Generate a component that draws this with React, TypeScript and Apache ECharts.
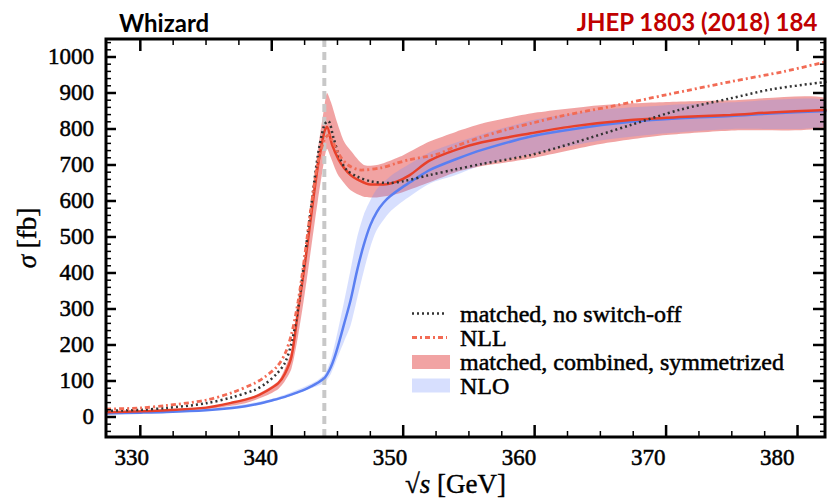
import React, { useEffect, useRef } from "react";
import * as echarts from "echarts";

// ---- axis extents (GeV / fb) ----
const X_MIN = 327.39;
const X_MAX = 382.09;
const X_LABEL_MIN = 328.01;
const X_LABEL_MAX = 383.69;
const Y_MIN = -55.6;
const Y_MAX = 1050;

const xMajorTicks = [330, 340, 350, 360, 370, 380];
const xMinorTicks = [332.5, 335, 337.5, 342.5, 345, 347.5, 352.5, 355, 357.5, 362.5, 365, 367.5, 372.5, 375, 377.5];
const yMajorTicks = [0, 100, 200, 300, 400, 500, 600, 700, 800, 900, 1000];
const yMinorTicks = [
  -40, -20, 20, 40, 60, 80, 120, 140, 160, 180, 220, 240, 260, 280, 320, 340, 360, 380, 420, 440, 460, 480,
  520, 540, 560, 580, 620, 640, 660, 680, 720, 740, 760, 780, 820, 840, 860, 880, 920, 940, 960, 980, 1020, 1040,
];

const thresholdX = 344;

// ---- NLO (blue line) ----
const nloX = [327.4, 330, 332, 335, 337, 338, 339, 340, 341, 342, 342.5, 343, 343.5, 344, 344.25, 344.5, 344.75, 345, 345.5, 346, 346.5, 347, 347.5, 348, 348.5, 349, 350, 351, 352, 354, 356, 359.7, 363, 367.3, 371, 374.9, 378, 382.2];
const nloY = [10, 12, 14, 19, 25, 30, 37, 46, 56, 69, 76, 85, 95, 108, 121, 139, 163, 192, 258, 325, 408, 478, 533, 570, 595, 613, 640, 663, 686, 716, 742, 779, 800, 820, 830, 836, 843, 850];

// ---- NLO band ----
const nloBandX = [327.4, 335, 340, 343, 344, 344.5, 345, 345.5, 346, 346.5, 347, 347.5, 348, 349, 350, 352, 354, 356, 360, 365, 370, 375, 382.2];
const nloBandUpper = [11, 21, 50, 92, 118, 160, 235, 320, 410, 500, 562, 602, 633, 668, 692, 735, 762, 785, 826, 853, 866, 874, 880];
const nloBandLower = [9, 17, 42, 80, 95, 120, 165, 210, 255, 330, 405, 472, 520, 570, 600, 648, 672, 700, 732, 768, 788, 800, 809];

// ---- matched, combined, symmetrized (red line) ----
const matchedX = [327.4, 330, 332, 335, 337, 338.7, 339.5, 340.5, 341, 341.5, 342, 342.5, 343, 343.5, 344, 344.2, 344.6, 345.1, 345.5, 346, 346.5, 347.5, 348.5, 349.5, 350.5, 352, 354, 356, 359.7, 363, 367.3, 371, 374.9, 378, 382.2];
const matchedY = [13, 16, 19, 26, 40, 56, 70, 94, 120, 168, 295, 420, 560, 695, 792, 806, 755, 714, 692, 672, 660, 646, 646, 654, 672, 712, 742, 763, 788, 808, 825, 833, 839, 846, 853];

// ---- matched band ----
const matchedBandX = [327.4, 330, 335, 338, 339.5, 340.5, 341, 341.5, 342, 342.5, 343, 343.5, 344, 344.2, 344.5, 345, 345.5, 346, 347, 348, 349, 350, 352, 354, 356, 358, 360, 365, 370, 375, 382.2];
const matchedBandUpper = [15, 18, 28, 48, 75, 100, 135, 185, 300, 440, 590, 740, 862, 900, 875, 815, 765, 740, 700, 700, 712, 727, 765, 792, 815, 831, 845, 866, 875, 880, 886];
const matchedBandLower = [11, 14, 22, 38, 58, 78, 100, 135, 225, 340, 470, 600, 715, 745, 720, 675, 650, 630, 612, 610, 615, 625, 652, 680, 697, 708, 720, 758, 783, 796, 806];

// ---- matched, no switch-off (black dotted) ----
const noSwitchX = [327.4, 330, 332, 335, 337, 338.7, 339.5, 340.4, 341, 341.5, 342, 342.5, 343, 343.5, 344, 344.3, 344.7, 345.2, 345.7, 346.5, 347.5, 349, 350, 352, 354, 356, 359.7, 363, 367.3, 371, 374.9, 378, 382.2];
const noSwitchY = [17, 20, 25, 38, 55, 75, 92, 121, 150, 205, 300, 440, 585, 725, 812, 822, 775, 718, 686, 668, 655, 650, 655, 672, 688, 703, 728, 762, 811, 853, 885, 910, 931];

// ---- NLL (dash-dot) ----
const nllX = [327.4, 330, 332, 335, 337, 338.7, 339.5, 340.4, 341, 341.5, 342, 342.5, 343, 343.5, 344, 344.3, 344.7, 345.2, 345.8, 346.8, 348.3, 349.5, 350.5, 352.6, 354, 356, 358, 360, 362, 366, 370, 375, 379, 382.2];
const nllY = [22, 25, 32, 47, 68, 94, 112, 140, 175, 230, 320, 445, 585, 705, 770, 783, 760, 725, 700, 686, 692, 705, 715, 730, 752, 778, 800, 818, 836, 864, 895, 932, 960, 987];

const legendLabels = ["matched, no switch-off", "NLL", "matched, combined, symmetrized", "NLO"];

const SERIF = "Liberation Serif";
const RED_BAND = "rgba(228,72,72,0.5)";
const BLUE_BAND = "rgba(110,140,250,0.28)";
const RED_LINE = "#e8402a";
const BLUE_LINE = "#5a7ff2";
const NLL_COLOR = "#f26b55";
const BLACK_DOT = "#333333";

const pairs = (xs: number[], ys: number[]) => xs.map((x, i) => [x, ys[i]]);

function bandSeries(name: string, xs: number[], upper: number[], lower: number[], color: string, z: number) {
  return {
    type: "custom",
    name,
    silent: true,
    clip: true,
    z,
    data: [[xs[0], lower[0]]],
    renderItem: (_params: any, api: any) => {
      const pts: number[][] = [];
      for (let i = 0; i < xs.length; i++) pts.push(api.coord([xs[i], upper[i]]));
      for (let i = xs.length - 1; i >= 0; i--) pts.push(api.coord([xs[i], lower[i]]));
      return { type: "polygon", shape: { points: pts, smooth: 0.25 }, style: { fill: color } };
    },
  };
}

function curve(name: string, xs: number[], ys: number[], color: string, width: number, type: any, z: number) {
  return {
    type: "line",
    name,
    data: pairs(xs, ys),
    symbol: "none",
    smooth: 0.3,
    silent: true,
    clip: true,
    lineStyle: { color, width, type, cap: "butt" },
    z,
  };
}

function seg(x1: number, y1: number, x2: number, y2: number, w: number) {
  return { type: "line", shape: { x1, y1, x2, y2 }, style: { stroke: "#000", lineWidth: w } };
}

const frameSeries = {
  type: "custom",
  name: "frame",
  silent: true,
  clip: false,
  z: 20,
  data: [[X_MIN, Y_MIN]],
  renderItem: (_params: any, api: any) => {
    const [xl, yb] = api.coord([X_MIN, Y_MIN]);
    const [xr, yt] = api.coord([X_MAX, Y_MAX]);
    const children: any[] = [];
    xMajorTicks.forEach((v) => {
      const px = api.coord([v, Y_MIN])[0];
      children.push(seg(px, yb, px, yb - 12, 2.5), seg(px, yt, px, yt + 12, 2.5));
    });
    xMinorTicks.forEach((v) => {
      const px = api.coord([v, Y_MIN])[0];
      children.push(seg(px, yb, px, yb - 6, 1.5), seg(px, yt, px, yt + 6, 1.5));
    });
    yMajorTicks.forEach((v) => {
      const py = api.coord([X_MIN, v])[1];
      children.push(seg(xl, py, xl + 10, py, 2.5), seg(xr, py, xr - 12, py, 2.5));
    });
    yMinorTicks.forEach((v) => {
      const py = api.coord([X_MIN, v])[1];
      children.push(seg(xl, py, xl + 5, py, 1.5), seg(xr, py, xr - 5, py, 1.5));
    });
    children.push({
      type: "rect",
      shape: { x: xl, y: yt, width: xr - xl, height: yb - yt },
      style: { fill: "none", stroke: "#000", lineWidth: 3 },
    });
    return { type: "group", children };
  },
};

function buildOption() {
  const labelText = { fontFamily: SERIF, fontSize: 23, color: "#000", textBorderColor: "#000", textBorderWidth: 0.5 };
  const nameText = {
    fontFamily: SERIF,
    fontSize: 27,
    color: "#000",
    textBorderColor: "#000",
    textBorderWidth: 0.4,
    rich: {
      i: { fontFamily: SERIF, fontSize: 27, fontStyle: "italic", color: "#000", textBorderColor: "#000", textBorderWidth: 0.4 },
    },
  };

  const legendRows = [313.5, 337.5, 362, 385.5];
  const legendGraphics: any[] = [
    {
      type: "line",
      shape: { x1: 412, y1: legendRows[0], x2: 447, y2: legendRows[0] },
      style: { stroke: BLACK_DOT, lineWidth: 2.5, lineDash: [2, 3] },
    },
    {
      type: "line",
      shape: { x1: 412, y1: legendRows[1], x2: 447, y2: legendRows[1] },
      style: { stroke: NLL_COLOR, lineWidth: 3, lineDash: [5, 3, 2, 3] },
    },
    { type: "rect", shape: { x: 412, y: legendRows[2] - 7, width: 38, height: 14 }, style: { fill: RED_BAND } },
    { type: "rect", shape: { x: 412, y: legendRows[3] - 7, width: 38, height: 14 }, style: { fill: BLUE_BAND } },
    ...legendLabels.map((t, i) => ({
      type: "text",
      x: 460,
      y: legendRows[i],
      style: {
        text: t,
        fontFamily: SERIF,
        fontSize: 24,
        fill: "#000",
        stroke: "#000",
        lineWidth: 0.5,
        verticalAlign: "middle",
        align: "left",
      },
    })),
  ];

  return {
    animation: false,
    backgroundColor: "#fff",
    title: [
      {
        text: "Whizard",
        left: 114,
        top: 5,
        textStyle: { fontFamily: "Lato", fontWeight: "bold", fontSize: 24, color: "#000" },
      },
      {
        text: "JHEP 1803 (2018) 184",
        right: 4,
        top: 4,
        textStyle: { fontFamily: "Lato", fontWeight: "bold", fontSize: 24, color: "#c00000" },
      },
    ],
    grid: { left: 106, right: 2, top: 39, bottom: 62, containLabel: false, outerBoundsMode: "none" },
    xAxis: [
      {
        type: "value",
        min: X_MIN,
        max: X_MAX,
        position: "bottom",
        axisLine: { show: false, onZero: false },
        axisTick: { show: false },
        axisLabel: { show: false },
        splitLine: { show: false },
      },
      {
        type: "value",
        min: X_LABEL_MIN,
        max: X_LABEL_MAX,
        position: "bottom",
        axisLine: { show: false, onZero: false },
        axisTick: { show: false },
        splitLine: { show: false },
        axisLabel: {
          show: true,
          customValues: xMajorTicks,
          margin: 9,
          formatter: (v: number) => String(v),
          ...labelText,
        },
        name: "√{i|s} [GeV]",
        nameLocation: "middle",
        nameGap: 33,
        nameMoveOverlap: false,
        nameTextStyle: { ...nameText, padding: [0, 20, 0, 0] },
      },
    ],
    yAxis: [
      {
        type: "value",
        min: Y_MIN,
        max: Y_MAX,
        position: "left",
        axisLine: { show: false, onZero: false },
        axisTick: { show: false },
        splitLine: { show: false },
        axisLabel: {
          show: true,
          customValues: yMajorTicks,
          margin: 12,
          formatter: (v: number) => String(v),
          ...labelText,
        },
        name: "{i|σ} [fb]",
        nameLocation: "middle",
        nameGap: 66,
        nameMoveOverlap: false,
        nameTextStyle: nameText,
      },
    ],
    series: [
      bandSeries("matched band", matchedBandX, matchedBandUpper, matchedBandLower, RED_BAND, 2),
      bandSeries("NLO band", nloBandX, nloBandUpper, nloBandLower, BLUE_BAND, 2),
      {
        type: "line",
        name: "threshold",
        data: [
          [thresholdX, Y_MIN],
          [thresholdX, Y_MAX],
        ],
        symbol: "none",
        silent: true,
        lineStyle: { color: "#c8c8c8", width: 4, type: [8, 5] },
        z: 3,
      },
      curve("NLO", nloX, nloY, BLUE_LINE, 2.5, "solid", 4),
      curve("matched, combined, symmetrized", matchedX, matchedY, RED_LINE, 2.5, "solid", 4),
      curve("matched, no switch-off", noSwitchX, noSwitchY, BLACK_DOT, 2.5, [2, 3], 5),
      curve("NLL", nllX, nllY, NLL_COLOR, 2.8, [5, 3, 2, 3], 5),
      frameSeries,
    ],
    graphic: legendGraphics,
  };
}

export default function App() {
  const ref = useRef<HTMLDivElement>(null);
  useEffect(() => {
    if (!ref.current) return;
    const chart = echarts.init(ref.current, null, { renderer: "svg" });
    chart.setOption(buildOption() as any);
    return () => chart.dispose();
  }, []);
  return (
    <div
      ref={ref}
      style={{ position: "absolute", left: 0, top: 0, width: 827, height: 499, background: "#fff" }}
    />
  );
}
